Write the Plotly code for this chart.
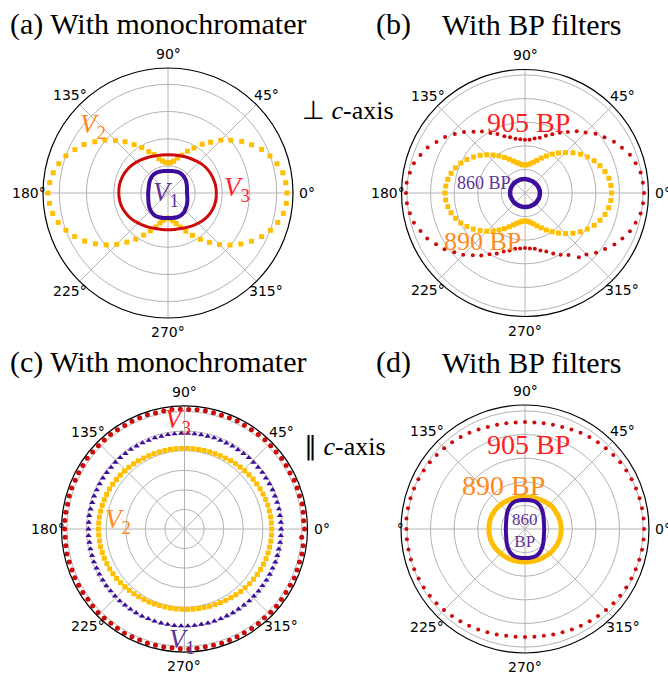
import math
import plotly.graph_objects as go

# ---------------- data (polar intensity, arbitrary units) ----------------
theta5 = list(range(0, 360, 5))
theta10 = list(range(0, 360, 10))
theta4 = list(range(0, 360, 4))

# (a) perpendicular to c-axis, monochromater
a_V2 = [4.38, 4.35, 4.29, 4.15, 3.99, 3.80, 3.55, 3.31, 3.02, 2.75,
        2.44, 2.19, 1.91, 1.70, 1.48, 1.33, 1.19, 1.13, 1.10, 1.14,
        1.20, 1.31, 1.50, 1.68, 1.93, 2.17, 2.46, 2.73, 3.03, 3.29,
        3.57, 3.78, 4.00, 4.16, 4.29, 4.37, 4.42, 4.38, 4.31, 4.18,
        4.00, 3.79, 3.54, 3.26, 2.97, 2.67, 2.36, 2.07, 1.79, 1.54,
        1.33, 1.15, 1.03, 0.94, 0.92, 0.95, 1.04, 1.16, 1.34, 1.55,
        1.80, 2.08, 2.37, 2.68, 2.98, 3.27, 3.55, 3.80, 4.01, 4.18,
        4.31, 4.37]
a_V3 = [1.78, 1.77, 1.74, 1.70, 1.64, 1.56, 1.50, 1.45, 1.42, 1.41,
        1.42, 1.45, 1.51, 1.58, 1.66, 1.73, 1.78, 1.81, 1.81, 1.80,
        1.76, 1.69, 1.61, 1.52, 1.45, 1.39, 1.36, 1.35, 1.36, 1.39,
        1.45, 1.53, 1.62, 1.70, 1.75, 1.78]
a_V1 = [0.70, 0.71, 0.74, 0.78, 0.82, 0.85, 0.86, 0.84, 0.82, 0.81,
        0.82, 0.84, 0.86, 0.86, 0.83, 0.79, 0.75, 0.73, 0.73, 0.74,
        0.77, 0.82, 0.88, 0.93, 0.96, 0.95, 0.93, 0.92, 0.93, 0.95,
        0.95, 0.92, 0.86, 0.81, 0.76, 0.72]

# (b) perpendicular to c-axis, band-pass filters
b_905 = [5.04, 5.01, 4.97, 4.85, 4.73, 4.53, 4.35, 4.11, 3.90, 3.63,
         3.41, 3.16, 2.95, 2.74, 2.58, 2.42, 2.34, 2.26, 2.25, 2.28,
         2.33, 2.44, 2.56, 2.76, 2.93, 3.18, 3.39, 3.65, 3.88, 4.13,
         4.33, 4.55, 4.71, 4.87, 4.95, 5.03, 5.04, 5.02, 4.95, 4.87,
         4.71, 4.57, 4.35, 4.16, 3.91, 3.70, 3.44, 3.23, 3.00, 2.83,
         2.64, 2.52, 2.40, 2.36, 2.33, 2.36, 2.40, 2.52, 2.64, 2.83,
         3.02, 3.21, 3.55, 3.68, 3.93, 4.14, 4.37, 4.55, 4.73, 4.85,
         4.97, 5.02]
b_890 = [3.67, 3.65, 3.61, 3.50, 3.38, 3.23, 3.05, 2.87, 2.65, 2.42,
         2.21, 2.01, 1.81, 1.63, 1.47, 1.35, 1.26, 1.20, 1.19, 1.20,
         1.25, 1.33, 1.44, 1.58, 1.74, 1.92, 2.10, 2.29, 2.48, 2.66,
         2.84, 3.00, 3.13, 3.24, 3.32, 3.37, 3.39, 3.37, 3.32, 3.24,
         3.13, 3.00, 2.84, 2.67, 2.48, 2.29, 2.10, 1.91, 1.74, 1.58,
         1.44, 1.33, 1.25, 1.20, 1.19, 1.20, 1.26, 1.35, 1.48, 1.63,
         1.81, 2.00, 2.21, 2.43, 2.65, 2.86, 3.05, 3.23, 3.38, 3.51,
         3.60, 3.65]
b_860 = [0.63, 0.63, 0.62, 0.61, 0.60, 0.59, 0.59, 0.58, 0.58, 0.59,
         0.59, 0.60, 0.60, 0.61, 0.62, 0.62, 0.63, 0.63, 0.63, 0.63,
         0.62, 0.61, 0.61, 0.60, 0.59, 0.59, 0.59, 0.59, 0.59, 0.60,
         0.60, 0.61, 0.62, 0.62, 0.63, 0.63]

# (c) parallel to c-axis, monochromater
c_V3 = [6.13, 6.10, 6.12, 6.14, 6.11, 6.12, 6.13, 6.10, 6.12, 6.13,
        6.11, 6.12, 6.14, 6.12, 6.11, 6.12, 6.13, 6.12, 6.10, 6.12,
        6.13, 6.12, 6.11, 6.12, 6.14, 6.12, 6.11, 6.13, 6.12, 6.12,
        6.10, 6.12, 6.13, 6.12, 6.11, 6.12, 6.14, 6.12, 6.12, 6.11,
        6.13, 6.12, 6.10, 6.12, 6.13, 6.12, 6.11, 6.12, 6.14, 6.12,
        6.11, 6.13, 6.12, 6.12, 6.10, 6.12, 6.13, 6.12, 6.11, 6.12,
        6.14, 6.12, 6.11, 6.13, 6.12, 6.12, 6.10, 6.12, 6.13, 6.12,
        6.11, 6.12, 6.14, 6.12, 6.12, 6.11, 6.13, 6.12, 6.10, 6.12,
        6.13, 6.12, 6.11, 6.12, 6.14, 6.12, 6.11, 6.13, 6.12, 6.00]
c_V1 = [4.93, 4.93, 4.92, 4.93, 4.92, 4.91, 4.92, 4.91, 4.90, 4.91,
        4.90, 4.89, 4.90, 4.89, 4.88, 4.89, 4.88, 4.88, 4.89, 4.88,
        4.88, 4.88, 4.88, 4.88, 4.88, 4.89, 4.88, 4.89, 4.88, 4.89,
        4.89, 4.90, 4.89, 4.90, 4.90, 4.89, 4.90, 4.91, 4.90, 4.90,
        4.91, 4.90, 4.90, 4.91, 4.90, 4.90, 4.91, 4.90, 4.91, 4.91,
        4.92, 4.91, 4.92, 4.92, 4.93, 4.92, 4.93, 4.94, 4.93, 4.94,
        4.94, 4.95, 4.94, 4.95, 4.95, 4.95, 4.96, 4.95, 4.95, 4.95,
        4.94, 4.95, 4.94, 4.94, 4.93, 4.94, 4.93, 4.93, 4.94, 4.93,
        4.93, 4.92, 4.93, 4.93, 4.92, 4.93, 4.93, 4.92, 4.93, 4.93]
c_V2 = [4.45, 4.44, 4.44, 4.43, 4.42, 4.41, 4.39, 4.37, 4.35, 4.33,
        4.30, 4.28, 4.25, 4.23, 4.21, 4.18, 4.16, 4.15, 4.14, 4.13,
        4.12, 4.12, 4.12, 4.12, 4.12, 4.13, 4.13, 4.14, 4.15, 4.16,
        4.18, 4.20, 4.22, 4.24, 4.26, 4.28, 4.30, 4.32, 4.34, 4.35,
        4.36, 4.37, 4.38, 4.39, 4.39, 4.39, 4.39, 4.38, 4.38, 4.37,
        4.36, 4.34, 4.33, 4.31, 4.29, 4.26, 4.24, 4.21, 4.19, 4.17,
        4.15, 4.14, 4.12, 4.11, 4.10, 4.10, 4.10, 4.10, 4.11, 4.11,
        4.12, 4.13, 4.15, 4.16, 4.18, 4.21, 4.23, 4.26, 4.29, 4.31,
        4.34, 4.36, 4.38, 4.40, 4.41, 4.43, 4.44, 4.44, 4.45, 4.45]

# (d) parallel to c-axis, band-pass filters
d_905 = [5.04, 5.04, 5.03, 5.02, 5.00, 4.98, 4.95, 4.92, 4.88, 4.84,
         4.80, 4.75, 4.70, 4.65, 4.60, 4.57, 4.55, 4.53, 4.53, 4.53,
         4.55, 4.57, 4.60, 4.65, 4.70, 4.75, 4.80, 4.84, 4.88, 4.92,
         4.95, 4.98, 5.00, 5.02, 5.03, 5.04, 5.02, 5.02, 5.01, 5.00,
         4.99, 4.97, 4.95, 4.92, 4.89, 4.85, 4.81, 4.77, 4.73, 4.69,
         4.65, 4.62, 4.59, 4.58, 4.57, 4.58, 4.59, 4.62, 4.65, 4.69,
         4.73, 4.77, 4.81, 4.85, 4.89, 4.92, 4.95, 4.97, 4.99, 5.01,
         5.03, 5.04]
d_890 = [1.53, 1.53, 1.51, 1.49, 1.49, 1.44, 1.41, 1.38, 1.37, 1.36,
         1.37, 1.38, 1.41, 1.44, 1.47, 1.50, 1.52, 1.53, 1.53, 1.53,
         1.52, 1.50, 1.47, 1.45, 1.43, 1.41, 1.40, 1.40, 1.40, 1.41,
         1.43, 1.45, 1.48, 1.50, 1.52, 1.53]
d_860 = [0.81, 0.82, 0.85, 0.91, 1.00, 1.10, 1.19, 1.24, 1.24, 1.23,
         1.24, 1.24, 1.19, 1.10, 1.00, 0.91, 0.85, 0.82, 0.81, 0.82,
         0.85, 0.91, 1.00, 1.10, 1.19, 1.24, 1.24, 1.23, 1.24, 1.24,
         1.19, 1.10, 1.00, 0.91, 0.85, 0.82]

angle_ticks = [0, 45, 90, 135, 180, 225, 270, 315]
angle_labels = ["0°", "45°", "90°", "135°", "180°", "225°", "270°", "315°"]

# ---------------- styling ----------------
W, H = 668, 675
RED, ORANGE, PURPLE = "#cc0a0a", "#ffbf00", "#3d0c9c"
TXT_RED, TXT_ORANGE, TXT_PURPLE = "#ff1f1f", "#ff8a1c", "#5e3495"
SERIF = "Liberation Serif"
GRID = "#b4b4b4"
LABEL_GAP = 14  # distance of the angle labels outside the rim, px

# subplot name -> (centre x px, centre y px, radius px, radial max, ring values)
panels = {
    "polar":  (168, 193, 125, 4.60, [1, 2, 3, 4]),
    "polar2": (525, 193, 123.5, 5.23, [1, 2, 3, 4, 5]),
    "polar3": (184.5, 529, 123, 6.28, [1, 2, 3, 4, 5, 6]),
    "polar4": (525, 529, 124, 5.25, [1, 2, 3, 4, 5]),
}


def fx(x):
    return x / W


def fy(y):
    return 1 - y / H


def closed(r, th):
    return list(r) + [r[0]], list(th) + [360]


fig = go.Figure()


def dots(r, th, sub, symbol, size, color):
    assert len(r) == len(th)
    fig.add_trace(go.Scatterpolar(r=r, theta=th, subplot=sub, mode="markers",
                                  marker=dict(symbol=symbol, size=size, color=color,
                                              line=dict(width=0)),
                                  hoverinfo="skip"))


def curve(r, th, sub, width, color):
    assert len(r) == len(th)
    rr, tt = closed(r, th)
    fig.add_trace(go.Scatterpolar(r=rr, theta=tt, subplot=sub, mode="lines",
                                  line=dict(color=color, width=width, shape="spline"),
                                  hoverinfo="skip"))


# (a)
dots(a_V2, theta5, "polar", "square", 5, ORANGE)
curve(a_V3, theta10, "polar", 3, RED)
curve(a_V1, theta10, "polar", 4, PURPLE)
# (b)
dots(b_905, theta5, "polar2", "circle", 4, RED)
dots(b_890, theta5, "polar2", "square", 5, ORANGE)
curve(b_860, theta10, "polar2", 4.5, PURPLE)
# (c)
dots(c_V3, theta4, "polar3", "circle", 5, RED)
dots(c_V1, theta4, "polar3", "triangle-up", 5.5, PURPLE)
dots(c_V2, theta4, "polar3", "square", 5, ORANGE)
# (d)
dots(d_905, theta5, "polar4", "circle", 4, RED)
curve(d_890, theta10, "polar4", 5, ORANGE)
curve(d_860, theta10, "polar4", 4, PURPLE)

layout_polars = {}
for name, (cx, cy, R, rmax, rings) in panels.items():
    layout_polars[name] = dict(
        domain=dict(x=[fx(cx - R), fx(cx + R)], y=[fy(cy + R), fy(cy - R)]),
        bgcolor="white",
        radialaxis=dict(range=[0, rmax], tickvals=rings, showticklabels=False,
                        ticks="", showline=False, showgrid=True,
                        gridcolor=GRID, gridwidth=1),
        angularaxis=dict(direction="counterclockwise", rotation=0,
                         tickvals=angle_ticks, showticklabels=False,
                         ticks="", showline=True, linecolor="black", linewidth=1.2,
                         showgrid=True, gridcolor=GRID, gridwidth=1),
    )

annotations = []


def label(x, y, text, size, color="black", anchor="center", family=SERIF):
    annotations.append(dict(x=fx(x), y=fy(y), xref="paper", yref="paper",
                            text=text, showarrow=False, xanchor=anchor,
                            yanchor="middle",
                            font=dict(family=family, size=size, color=color)))


# angle labels, centred just outside each rim
for name, (cx, cy, R, rmax, rings) in panels.items():
    for ang, txt in zip(angle_ticks, angle_labels):
        rad = math.radians(ang)
        lx = cx + (R + LABEL_GAP) * math.cos(rad)
        ly = cy - (R + LABEL_GAP) * math.sin(rad)
        label(lx, ly, txt, 14, family="DejaVu Sans")

# blank strip between panels (c) and (d)
annotations.append(dict(x=fx(398), y=fy(529), xref="paper", yref="paper",
                        text=" ", showarrow=False, xanchor="right", yanchor="middle",
                        width=40, height=24, bgcolor="white", borderpad=0))

# panel titles
label(8, 24, "(a) With monochromater", 30, anchor="left")
label(374, 24, "(b)", 30, anchor="left")
label(440, 24, "With BP filters", 30, anchor="left")
label(8, 362, "(c) With monochromater", 30, anchor="left")
label(374, 362, "(d)", 30, anchor="left")
label(440, 362, "With BP filters", 30, anchor="left")

# orientation notes
label(300, 110, "⊥ <i>c</i>-axis", 26, anchor="left")
label(302, 446, "∥ <i>c</i>-axis", 26, anchor="left")

# curve labels
label(93, 126, "<i>V</i><sub>2</sub>", 27, TXT_ORANGE)
label(237, 189, "<i>V</i><sub>3</sub>", 27, TXT_RED)
label(166, 194, "<i>V</i><sub>1</sub>", 27, TXT_PURPLE)

label(528, 122, "905 BP", 28, TXT_RED)
label(484, 183, "860 BP", 18, TXT_PURPLE)
label(483, 242, "890 BP", 26, TXT_ORANGE)

label(178, 421, "<i>V</i><sub>3</sub>", 27, TXT_RED)
label(118, 521, "<i>V</i><sub>2</sub>", 27, TXT_ORANGE)
label(182, 641, "<i>V</i><sub>1</sub>", 27, TXT_PURPLE)

label(528, 445, "905 BP", 28, TXT_RED)
label(504, 485, "890 BP", 28, TXT_ORANGE)
label(525, 530, "860<br>BP", 17, TXT_PURPLE)

fig.update_layout(
    width=W, height=H,
    margin=dict(l=0, r=0, t=0, b=0),
    paper_bgcolor="white",
    showlegend=False,
    annotations=annotations,
    **layout_polars,
)

fig.write_html("out.html")
